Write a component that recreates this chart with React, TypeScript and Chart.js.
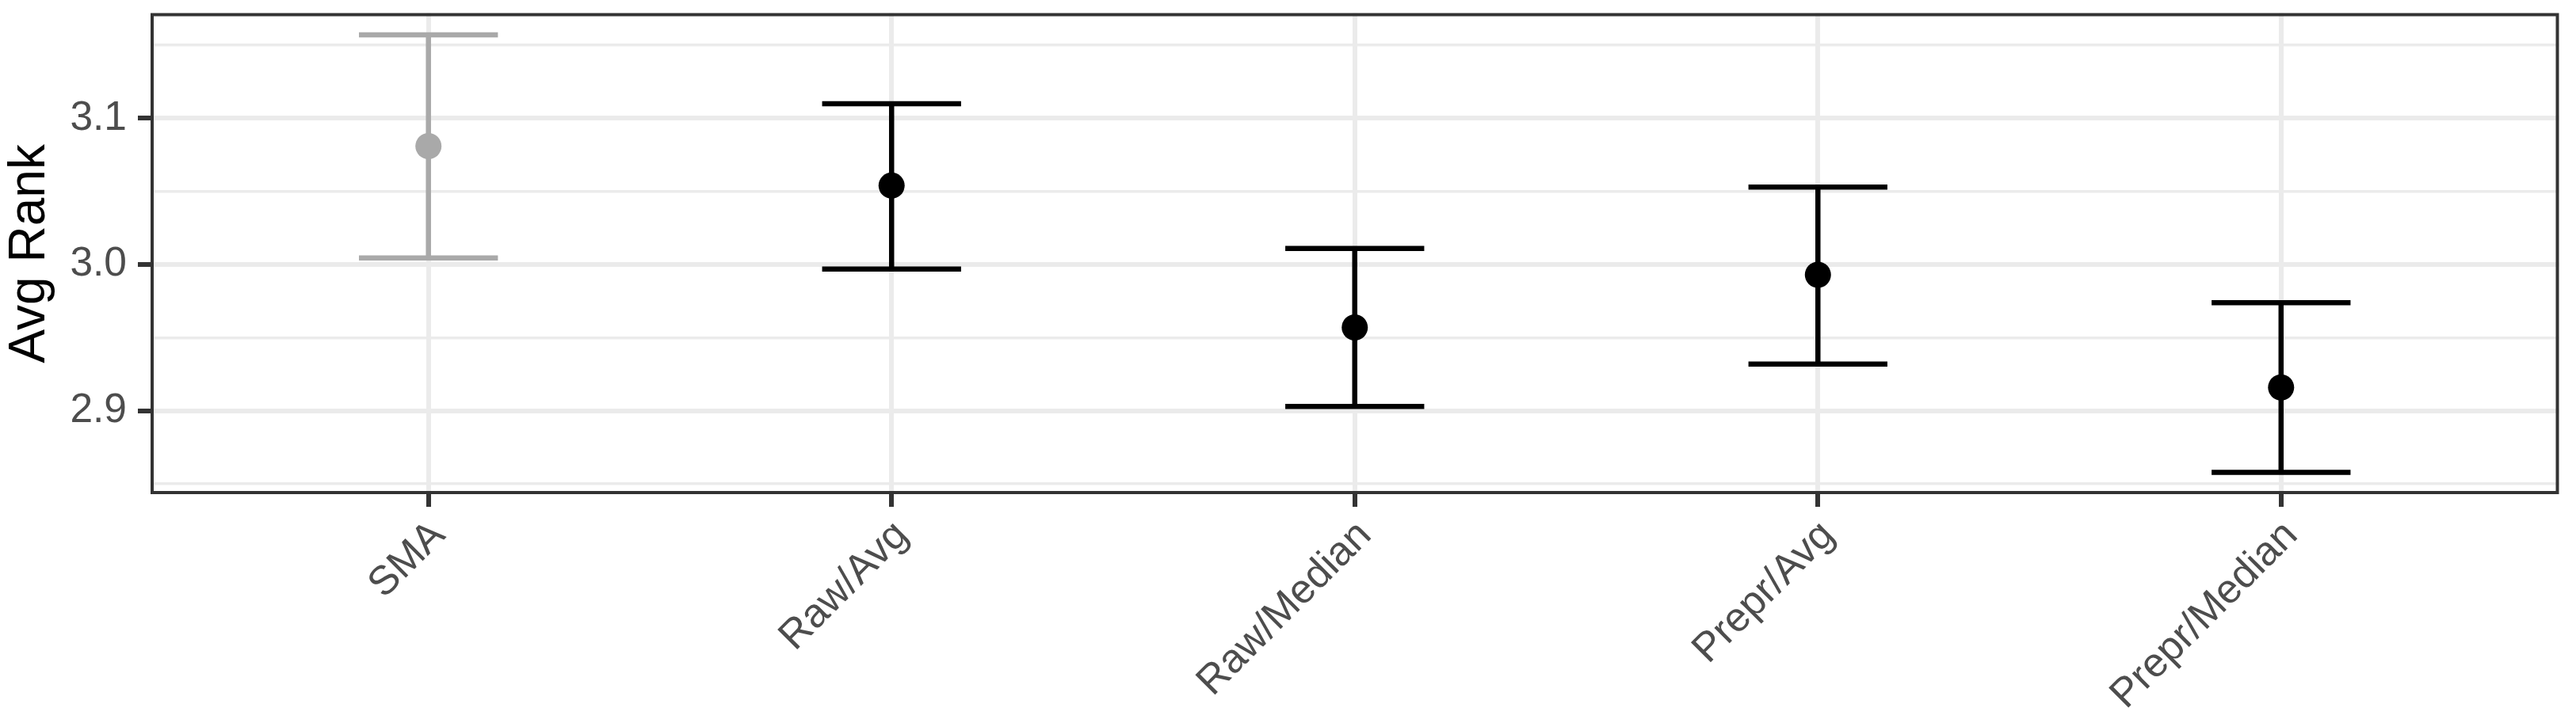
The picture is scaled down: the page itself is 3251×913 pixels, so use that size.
import React, { useEffect, useRef } from "react";
import { Chart, registerables } from "chart.js";

Chart.register(...registerables);

// ---- data ----
const categories = ["SMA", "Raw/Avg", "Raw/Median", "Prepr/Avg", "Prepr/Median"];
const meanRank = [3.081, 3.054, 2.957, 2.993, 2.916];
const lowerCI = [3.0045, 2.997, 2.903, 2.932, 2.858];
const upperCI = [3.157, 3.110, 3.011, 3.053, 2.974];
const pointColors = ["#A9A9A9", "#000000", "#000000", "#000000", "#000000"];
const yMajorTicks = [2.9, 3.0, 3.1];
const yMinorTicks = [2.85, 2.95, 3.05, 3.15];
const yAxisTitle = "Avg Rank";

const FONT = "'Liberation Sans', Arial, Helvetica, sans-serif";
const W = 3251;
const H = 913;

const isMajor = (v: number | undefined) =>
  v !== undefined && yMajorTicks.some((m) => Math.abs(m - v) < 1e-6);

// ggplot-like 5% expansion of the continuous range
const dataMin = Math.min(...lowerCI);
const dataMax = Math.max(...upperCI);
const span = dataMax - dataMin;
const yMin = dataMin - 0.05 * span;
const yMax = dataMax + 0.05 * span;

const errorBarPlugin = {
  id: "errorBars",
  beforeDatasetsDraw(chart: any) {
    const { ctx } = chart;
    const xs = chart.scales.x;
    const ys = chart.scales.y;
    ctx.save();
    ctx.lineWidth = 6.5;
    ctx.lineCap = "butt";
    for (let i = 0; i < categories.length; i++) {
      const px = xs.getPixelForValue(i);
      const half = xs.getPixelForValue(i + 0.15) - px;
      const yl = ys.getPixelForValue(lowerCI[i]);
      const yu = ys.getPixelForValue(upperCI[i]);
      ctx.strokeStyle = pointColors[i];
      ctx.beginPath();
      ctx.moveTo(px - half, yu);
      ctx.lineTo(px + half, yu);
      ctx.moveTo(px, yu);
      ctx.lineTo(px, yl);
      ctx.moveTo(px - half, yl);
      ctx.lineTo(px + half, yl);
      ctx.stroke();
    }
    ctx.restore();
  },
};

const panelBorderPlugin = {
  id: "panelBorder",
  afterDraw(chart: any) {
    const { ctx, chartArea } = chart;
    const lw = 4;
    ctx.save();
    ctx.strokeStyle = "#333333";
    ctx.lineWidth = lw;
    ctx.strokeRect(
      chartArea.left + lw / 2,
      chartArea.top + lw / 2,
      chartArea.right - chartArea.left - lw,
      chartArea.bottom - chartArea.top - lw
    );
    ctx.restore();
  },
};

export default function App() {
  const canvasRef = useRef<HTMLCanvasElement | null>(null);

  useEffect(() => {
    document.body.style.margin = "0";
    const canvas = canvasRef.current;
    if (!canvas) return;
    const chart = new Chart(canvas, {
      type: "scatter",
      data: {
        datasets: [
          {
            data: meanRank.map((y, i) => ({ x: i, y })),
            pointRadius: 16.5,
            pointHoverRadius: 16.5,
            pointBackgroundColor: pointColors,
            pointBorderWidth: 0,
            showLine: false,
          },
        ],
      },
      options: {
        animation: false,
        responsive: false,
        devicePixelRatio: 1,
        layout: { padding: { left: 0, top: 15, right: 21.5, bottom: 0 } },
        plugins: {
          legend: { display: false },
          tooltip: { enabled: false },
        },
        scales: {
          x: {
            type: "linear",
            min: -0.6,
            max: categories.length - 1 + 0.6,
            afterBuildTicks: (s: any) => {
              s.ticks = categories.map((_, i) => ({ value: i }));
            },
            afterFit: (s: any) => {
              s.height = 289;
              s.paddingLeft = 0;
              s.paddingRight = 0;
            },
            border: { display: false },
            grid: {
              color: "#EBEBEB",
              lineWidth: 6,
              tickColor: "#333333",
              tickLength: 16,
              tickWidth: 6,
            },
            ticks: {
              autoSkip: false,
              minRotation: 45,
              maxRotation: 45,
              labelOffset: 13,
              padding: 6,
              color: "#4D4D4D",
              font: { family: FONT, size: 51.5 },
              callback: (v: any) => categories[Math.round(Number(v))] ?? "",
            },
          },
          y: {
            type: "linear",
            min: yMin,
            max: yMax,
            afterBuildTicks: (s: any) => {
              s.ticks = [...yMinorTicks, ...yMajorTicks]
                .sort((a, b) => a - b)
                .map((v) => ({ value: v }));
            },
            afterFit: (s: any) => {
              s.width = 190;
              s.paddingTop = 0;
              s.paddingBottom = 0;
            },
            border: { display: false },
            grid: {
              color: "#EBEBEB",
              lineWidth: (c: any) => (isMajor(c.tick?.value) ? 6 : 3.5),
              tickColor: (c: any) =>
                isMajor(c.tick?.value) ? "#333333" : "rgba(0,0,0,0)",
              tickLength: 16,
              tickWidth: 6,
            },
            ticks: {
              padding: 14,
              color: "#4D4D4D",
              font: { family: FONT, size: 51.5 },
              callback: (v: any) => (isMajor(Number(v)) ? Number(v).toFixed(1) : ""),
            },
            title: {
              display: true,
              text: yAxisTitle,
              color: "#000000",
              font: { family: FONT, size: 64 },
              padding: { top: 0, bottom: 0 },
            },
          },
        },
      },
      plugins: [errorBarPlugin, panelBorderPlugin],
    });
    return () => chart.destroy();
  }, []);

  return (
    <div style={{ width: W, height: H, background: "#ffffff" }}>
      <canvas ref={canvasRef} width={W} height={H} style={{ width: W, height: H, display: "block" }} />
    </div>
  );
}
